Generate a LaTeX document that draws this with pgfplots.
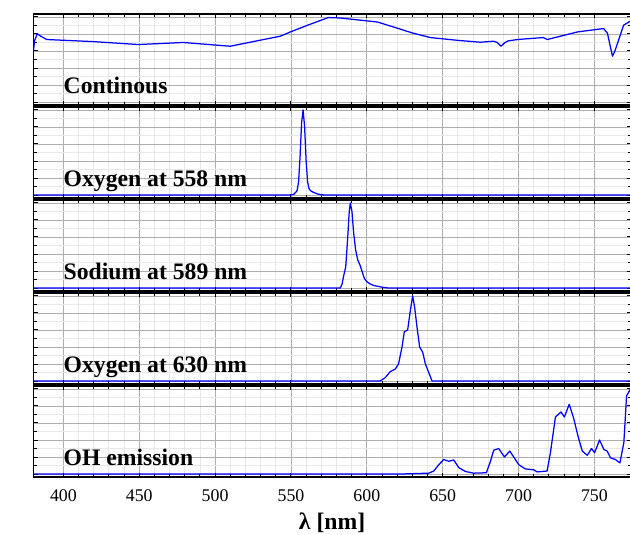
\documentclass[border=0pt]{standalone}
\usepackage{pgfplots}
\pgfplotsset{compat=1.18}
\usepackage{fontspec}
\setmainfont{Liberation Serif}
\definecolor{linecol}{RGB}{48,122,255}
\pgfplotsset{
  panel/.style={
    scale only axis,
    width=358.5pt, height=54.6pt,
    anchor=north west,
    xmin=380.2, xmax=774,
    ymin=-0.035, ymax=1.035,
    xtick={400,450,...,750},
    minor x tick num=4,
    ytick={0,0.2,...,1},
    minor y tick num=1,
    yticklabels={},
    xticklabels={},
    grid=both,
    major grid style={black!32, line width=0.5pt},
    minor grid style={black!9, line width=0.5pt},
    tick align=inside,
    major tick length=2.6pt,
    minor tick length=2pt,
    tick style={black, line width=0.6pt},
    axis line style={black, line width=1pt},
    every axis plot/.append style={linecol, line width=0.75pt, line join=round, no marks},
    /pgf/number format/assume math mode=true,
    ticklabel style={font=\fontsize{10.7}{12}\selectfont},
  },
}
\tikzset{lab/.style={anchor=base west, inner sep=0pt, font=\fontsize{14.2}{16}\selectfont\bfseries}}
\begin{document}
\begin{tikzpicture}
\useasboundingbox (-20pt,8.4pt) rectangle (358pt,-312.6pt);
% Panel 1: Continuous
\begin{axis}[panel, at={(0pt,0pt)}]
\addplot coordinates {
(380.2,0.58) (381.0,0.72) (382.8,0.805) (384.5,0.78) (389.0,0.735) (420,0.71)
(449.3,0.676) (479.0,0.70) (510.0,0.656) (529.8,0.727) (543.0,0.774) (549.6,0.824)
(562,0.91) (574.6,0.993) (582.5,0.988) (606.9,0.941) (618,0.88) (630.0,0.812)
(641.9,0.758) (660,0.725) (674.9,0.703) (683.4,0.715) (686,0.70) (688.5,0.656)
(691,0.70) (693.3,0.719) (699.3,0.735) (716.4,0.758) (719.0,0.735) (727.6,0.774)
(738.8,0.824) (756.0,0.864) (758.6,0.809) (760.5,0.65) (761.9,0.539) (763.5,0.60)
(765.9,0.727) (769.2,0.903) (773.8,0.953)
};
\node[lab] at (axis cs:400,0.1) {Continous};
\node[anchor=east, font=\fontsize{14.2}{16}\selectfont\bfseries] at ([xshift=-3pt]rel axis cs:0,0.5) {L};
\end{axis}
% Panel 2: Oxygen 558
\begin{axis}[panel, at={(0pt,-55.8pt)}]
\addplot coordinates {
(380.2,0) (550,0) (552,0.01) (554,0.05) (555,0.15) (556,0.45) (557,0.85) (558,1.0)
(559,0.8) (560,0.4) (561,0.15) (562,0.07) (563,0.05) (565,0.03) (568,0.01) (572,0) (774,0)
};
\node[lab] at (axis cs:400,0.1) {Oxygen at 558 nm};
\end{axis}
% Panel 3: Sodium 589
\begin{axis}[panel, at={(0pt,-111.6pt)}]
\addplot coordinates {
(380.2,0) (582.5,0) (583.6,0.04) (584.7,0.14) (586.1,0.25) (587.6,0.65) (588.4,0.9)
(589.1,1.0) (590.2,0.9) (591.3,0.65) (592.6,0.45) (594,0.33) (595.5,0.27) (596.8,0.2)
(598.2,0.12) (599.7,0.08) (602,0.05) (604.5,0.03) (610,0.01) (614,0) (774,0)
};
\node[lab] at (axis cs:400,0.1) {Sodium at 589 nm};
\end{axis}
% Panel 4: Oxygen 630
\begin{axis}[panel, at={(0pt,-167.4pt)}]
\addplot coordinates {
(380.2,0) (608.8,0) (612.1,0.04) (615.4,0.11) (618.7,0.14) (620.9,0.2) (623.2,0.4)
(624.7,0.58) (626.9,0.6) (628.7,0.83) (630.2,1.0) (631.5,0.87) (633.1,0.63)
(634.8,0.4) (636.8,0.34) (638.6,0.2) (640.8,0.1) (643,0) (774,0)
};
\node[lab] at (axis cs:400,0.1) {Oxygen at 630 nm};
\end{axis}
% Panel 5: OH emission
\begin{axis}[panel, at={(0pt,-223.2pt)},
  xticklabels={400,450,500,550,600,650,700,750},
  xticklabel style={yshift=-4pt},
  xlabel={λ [nm]},
  xlabel style={font=\fontsize{14.2}{16}\selectfont\bfseries, yshift=0pt}]
\addplot coordinates {
(380.2,0) (622.1,0) (640.8,0.01) (644.1,0.035) (647.4,0.11) (650.7,0.17) (654,0.15)
(657.3,0.165) (660.6,0.075) (665,0.03) (670.4,0.01) (678.8,0.015) (681.5,0.15)
(683.6,0.28) (686.9,0.3) (690.7,0.2) (694.2,0.27) (696.8,0.2) (700.1,0.11)
(704.5,0.06) (710,0.05) (712.2,0.025) (718.8,0.035) (721,0.25) (724.3,0.67)
(728,0.73) (730.2,0.67) (733.4,0.82) (736.4,0.65) (739.1,0.45) (742,0.27)
(745.3,0.22) (748.1,0.3) (750.1,0.25) (753.4,0.4) (756.2,0.29) (758.4,0.27)
(760.6,0.19) (763.9,0.17) (766.8,0.13) (769.4,0.37) (771.2,0.92) (773.8,1.0)
};
\node[lab] at (axis cs:400,0.1) {OH emission};
\end{axis}
\end{tikzpicture}
\end{document}
